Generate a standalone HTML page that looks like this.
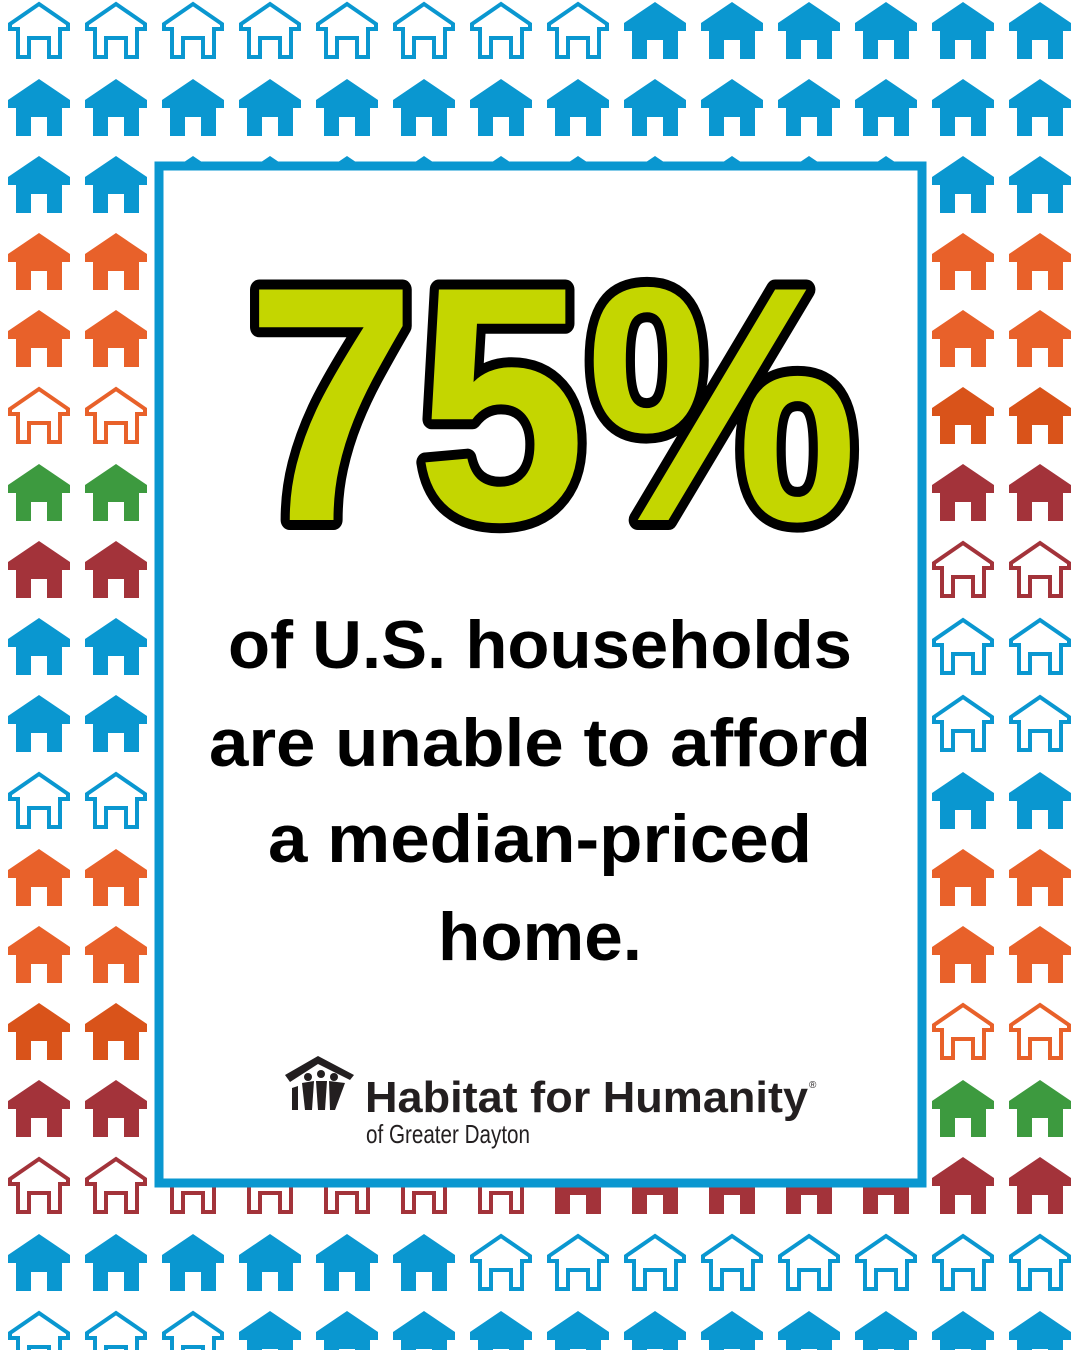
<!DOCTYPE html>
<html><head><meta charset="utf-8"><style>
html,body{margin:0;padding:0;background:#fff;}
svg{display:block;}
</style></head><body>
<svg width="1080" height="1350" viewBox="0 0 1080 1350" xmlns="http://www.w3.org/2000/svg">
<defs>
<polygon id="h" points="31,0 62,21 62,29 54,29 54,57 39,57 39,38 23,38 23,57 8,57 8,29 0,29 0,21"/>
<polygon id="o" points="31,2 60,22 60,27 52,27 52,55 41,55 41,36 21,36 21,55 10,55 10,27 2,27 2,22"/>
</defs>
<g id="grid"></g>
<rect x="159" y="166" width="763" height="1017" fill="#fff" stroke="#0a97d0" stroke-width="9"/>
<text x="246" y="520" font-family="Liberation Sans, sans-serif" font-weight="bold" font-size="335" textLength="612" lengthAdjust="spacingAndGlyphs" fill="#c4d600" stroke="#000" stroke-width="20" stroke-linejoin="round" paint-order="stroke">75%</text>
<g font-family="Liberation Sans, sans-serif" font-weight="bold" font-size="68" fill="#000" text-anchor="middle">
<text x="540" y="668" textLength="624" lengthAdjust="spacingAndGlyphs">of U.S. households</text>
<text x="540" y="766" textLength="662" lengthAdjust="spacingAndGlyphs">are unable to afford</text>
<text x="540" y="862" textLength="544" lengthAdjust="spacingAndGlyphs">a median-priced</text>
<text x="540" y="960" textLength="204" lengthAdjust="spacingAndGlyphs">home.</text>
</g>
<g fill="#231f20">
<polygon points="285,1075 318,1056 354,1075 350,1080 318,1064 290,1082"/>
<circle cx="308" cy="1077" r="4"/><circle cx="321" cy="1074" r="4"/><circle cx="334" cy="1077" r="4"/>
<polygon points="292,1088 298,1086 298,1110 292,1110"/>
<polygon points="302,1083 314,1081 312,1110 305,1110"/>
<polygon points="316,1081 327,1081 325,1110 318,1110"/>
<polygon points="329,1081 345,1083 335,1110 330,1110"/>
</g>
<text x="365" y="1112" font-family="Liberation Sans Narrow, Liberation Sans, sans-serif" font-weight="bold" font-size="44" fill="#231f20" textLength="443" lengthAdjust="spacingAndGlyphs">Habitat for Humanity</text>
<text x="809" y="1088" font-family="Liberation Sans, sans-serif" font-size="10" fill="#231f20">®</text>
<text x="366" y="1143" font-family="Liberation Sans Narrow, Liberation Sans, sans-serif" font-size="26" fill="#231f20" textLength="164" lengthAdjust="spacingAndGlyphs">of Greater Dayton</text>
</svg>
<script>
(function(){
var B='#0a97d0',O='#e8612a',D='#d9531a',G='#3d9a3f',R='#a3333a';
var cells={};
function set(r,c,col,out){cells[r+','+c]=[col,out];}
for(var c=0;c<14;c++){set(0,c,B,c<8);set(1,c,B,false);set(2,c,B,false);}
var L=[[B,0],[O,0],[O,0],[O,1],[G,0],[R,0],[B,0],[B,0],[B,1],[O,0],[O,0],[D,0],[R,0],[R,1]];
var Rr=[[B,0],[O,0],[O,0],[D,0],[R,0],[R,1],[B,1],[B,1],[B,0],[O,0],[O,0],[O,1],[G,0],[R,0]];
for(var i=0;i<14;i++){var r=i+2;set(r,0,L[i][0],!!L[i][1]);set(r,1,L[i][0],!!L[i][1]);set(r,12,Rr[i][0],!!Rr[i][1]);set(r,13,Rr[i][0],!!Rr[i][1]);}
for(var c=2;c<12;c++){set(15,c,R,c<7);}
for(var c=0;c<14;c++){set(16,c,B,c>=6);set(17,c,B,c<3);}
var g=document.getElementById('grid'),s='';
for(var k in cells){var p=k.split(','),r=+p[0],c=+p[1],v=cells[k];
var x=8+77*c,y=2+77*r;
if(v[1]) s+='<use href="#o" x="'+x+'" y="'+y+'" fill="#fff" stroke="'+v[0]+'" stroke-width="4"/>';
else s+='<use href="#h" x="'+x+'" y="'+y+'" fill="'+v[0]+'"/>';}
g.innerHTML=s;
})();
</script>
</body></html>
